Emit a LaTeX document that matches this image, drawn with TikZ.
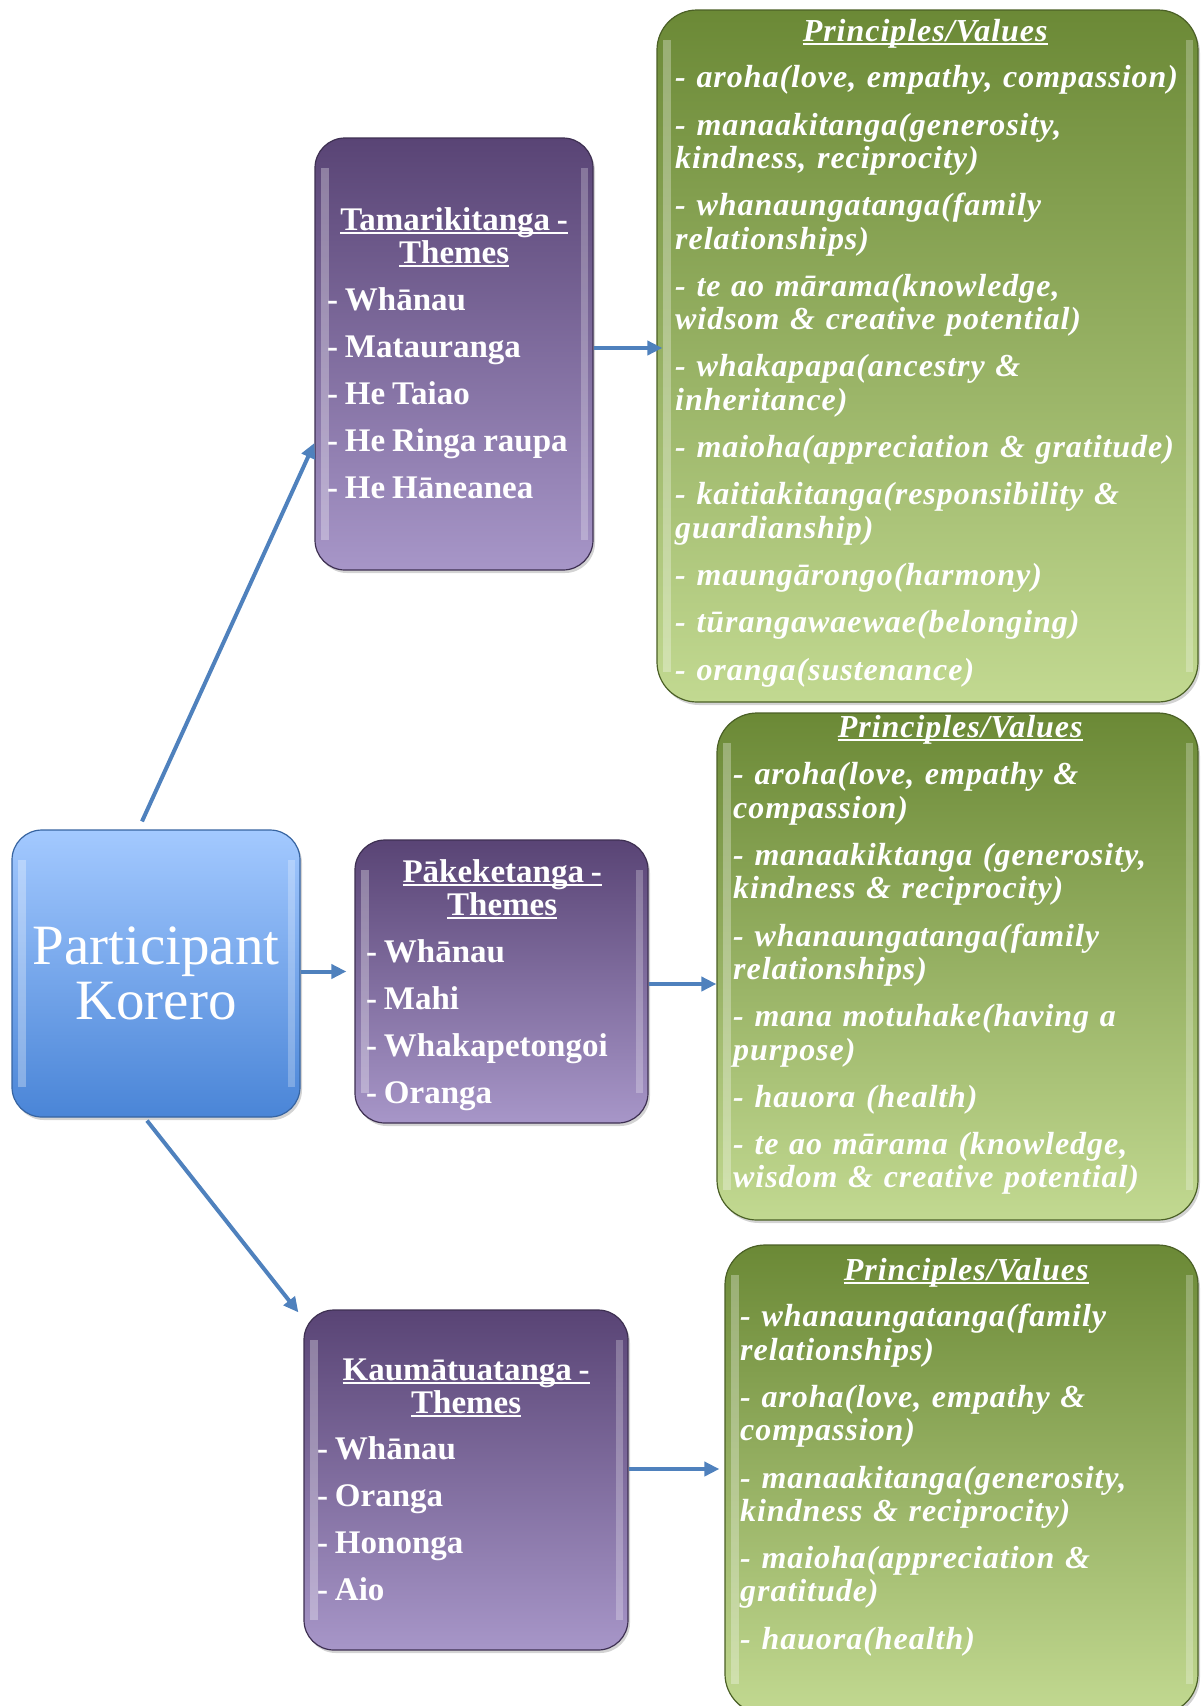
\documentclass[tikz,border=0pt]{standalone}
\usepackage{fontspec}
\setmainfont{Liberation Serif}
\newfontfamily\valuefont[LetterSpace=3]{Liberation Serif}
\usetikzlibrary{arrows.meta,shadows}

\definecolor{purpTop}{HTML}{594475}
\definecolor{purpBot}{HTML}{A796C8}
\definecolor{grnTop}{HTML}{6B8936}
\definecolor{grnBot}{HTML}{C2D991}
\definecolor{bluTop}{HTML}{A3C9FF}
\definecolor{bluBot}{HTML}{4A85D7}
\definecolor{arrowBlue}{HTML}{4F81BD}

\newcommand{\itemgap}{\\[14pt]}
\newcommand{\ulword}[1]{\leavevmode\setbox0\hbox{#1}\rlap{\rule[-4pt]{\wd0}{1.8pt}}\box0}
\newcommand{\themespacing}{\setlength{\spaceskip}{6.8pt plus 2pt minus 1pt}}

\begin{document}
\begin{tikzpicture}[
    x=1pt, y=-1pt,
    box/.style={rectangle, rounded corners=30pt, line width=1.2pt,
        drop shadow={opacity=0.35, shadow xshift=2pt, shadow yshift=-3pt},
        path picture={
            \draw[white, opacity=0.3, line width=8pt] ([xshift=10pt,yshift=-30pt]path picture bounding box.north west) -- ([xshift=10pt,yshift=30pt]path picture bounding box.south west);
            \draw[white, opacity=0.25, line width=7pt] ([xshift=-9pt,yshift=-30pt]path picture bounding box.north east) -- ([xshift=-9pt,yshift=30pt]path picture bounding box.south east);
        }},
    theme/.style={box, top color=purpTop, bottom color=purpBot, draw=purpTop!70!black},
    value/.style={box, rounded corners=40pt, top color=grnTop, bottom color=grnBot, draw=grnTop!70!black},
    themetext/.style={anchor=base west, inner sep=0pt, align=left, text=white, font=\fontsize{33}{33}\selectfont\bfseries},
    valuetext/.style={anchor=base west, inner sep=0pt, align=left, text=white, font=\valuefont\fontsize{32}{33.3}\selectfont\bfseries\itshape},
    link/.style={-{Triangle[length=15pt,width=14pt]}, line width=4pt, arrowBlue}
]
    \useasboundingbox (0,0) rectangle (1201,1706);

    % Participant
    \node[box, top color=bluTop, bottom color=bluBot, draw=bluBot!75!black, minimum width=288pt, minimum height=287pt, align=center, text=white, font=\fontsize{57}{55}\selectfont] (part) at (156,973.5) {Participant\\Korero};

    % Theme boxes
    \node[theme, minimum width=278pt, minimum height=432pt] (tam) at (454,354) {};
    \node[theme, minimum width=293pt, minimum height=283pt] (pake) at (501.5,981.5) {};
    \node[theme, minimum width=324pt, minimum height=340pt] (kau) at (466,1480) {};

    % Principles/Values boxes
    \node[value, minimum width=541pt, minimum height=692pt] (valA) at (927.5,356) {};
    \node[value, minimum width=481pt, minimum height=507pt] (valB) at (957.5,966.5) {};
    \node[value, minimum width=473pt, minimum height=469pt] (valC) at (961.5,1479.5) {};

    % Theme texts
    \node[themetext, text width=254pt] (tamText) at (327,230) {\themespacing{\centering\ulword{Tamarikitanga -}\\\ulword{Themes}\par}\vspace{14pt}- Whānau\\[14pt]- Matauranga\\[14pt]- He Taiao\\[14pt]- He Ringa raupa\\[14pt]- He Hāneanea};
    \node[themetext, text width=272pt] (pakeText) at (366,882) {\themespacing{\centering\ulword{Pākeketanga -}\\\ulword{Themes}\par}\vspace{14pt}- Whānau\\[14pt]- Mahi\\[14pt]- Whakapetongoi\\[14pt]- Oranga};
    \node[themetext, text width=298pt] (kauText) at (317,1380) {\themespacing{\centering\ulword{Kaumātuatanga -}\\\ulword{Themes}\par}\vspace{13pt}- Whānau\\[14pt]- Oranga\\[14pt]- Hononga\\[14pt]- Aio};

    % Value texts
    \node[valuetext, text width=500pt] (valAText) at (675,41) {{\centering\ulword{Principles/Values}\par}\vspace{13.5pt}- aroha(love, empathy, compassion)\itemgap
        - manaakitanga(generosity,\\kindness, reciprocity)\itemgap
        - whanaungatanga(family\\relationships)\itemgap
        - te ao mārama(knowledge,\\widsom \& creative potential)\itemgap
        - whakapapa(ancestry \&\\inheritance)\itemgap
        - maioha(appreciation \& gratitude)\itemgap
        - kaitiakitanga(responsibility \&\\guardianship)\itemgap
        - maungārongo(harmony)\itemgap
        - tūrangawaewae(belonging)\itemgap
        - oranga(sustenance)};
    \node[valuetext, text width=454pt] (valBText) at (733,737) {{\centering\ulword{Principles/Values}\par}\vspace{14.6pt}- aroha(love, empathy \&\\compassion)\itemgap
        - manaakiktanga (generosity,\\kindness \& reciprocity)\itemgap
        - whanaungatanga(family\\relationships)\itemgap
        - mana motuhake(having a\\purpose)\itemgap
        - hauora (health)\itemgap
        - te ao mārama (knowledge,\\wisdom \& creative potential)};
    \node[valuetext, text width=452pt] (valCText) at (740,1280) {{\centering\ulword{Principles/Values}\par}\vspace{13.5pt}- whanaungatanga(family\\relationships)\itemgap
        - aroha(love, empathy \&\\compassion)\itemgap
        - manaakitanga(generosity,\\kindness \& reciprocity)\itemgap
        - maioha(appreciation \&\\gratitude)\itemgap
        - hauora(health)};

    % Connections
    \draw[link] ([xshift=-14pt,yshift=8pt]part.north) -- ([yshift=-89pt]tam.west);
    \draw[link] ([yshift=2pt]part.east) -- ([xshift=-8pt,yshift=10pt]pake.west);
    \draw[link] ([xshift=-9pt,yshift=-3pt]part.south) -- ([xshift=-5pt,yshift=-3pt]kau.north west);
    \draw[link] ([yshift=6pt]tam.east) -- ([xshift=6pt,yshift=8pt]valA.west);
    \draw[link] ([yshift=-2.5pt]pake.east) -- ([yshift=-17.5pt]valB.west);
    \draw[link] ([yshift=11pt]kau.east) -- ([xshift=-5pt,yshift=10.5pt]valC.west);

\end{tikzpicture}
\end{document}
